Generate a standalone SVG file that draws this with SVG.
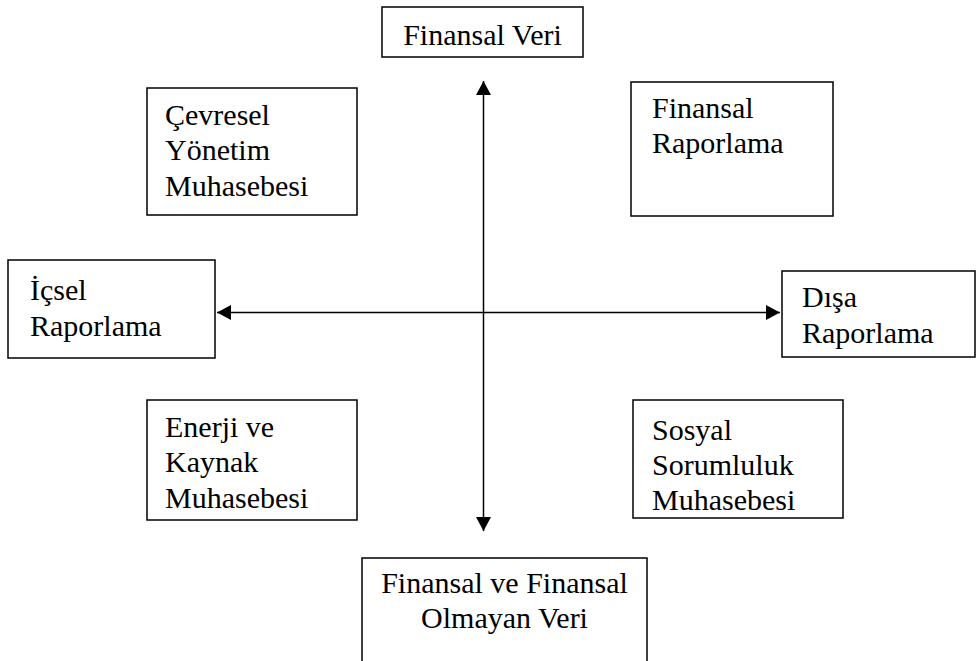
<svg xmlns="http://www.w3.org/2000/svg" width="977" height="661" viewBox="0 0 977 661">
  <style>
    .box { fill: #ffffff; stroke: #000000; stroke-width: 1.5; }
    .lbl { font-family: "Liberation Serif", "Times New Roman", serif; font-size: 30px; fill: #000000; }
    .mid { text-anchor: middle; }
    .axis { stroke: #000000; stroke-width: 1.5; fill: none; }
  </style>
  <defs>
    <marker id="head" viewBox="0 0 14 15" refX="14" refY="7.5" markerWidth="14" markerHeight="15" markerUnits="userSpaceOnUse" orient="auto-start-reverse">
      <path d="M0,0 L14,7.5 L0,15 Z" fill="#000000"/>
    </marker>
  </defs>
  <rect width="977" height="661" fill="#ffffff"/>

  <g id="connectors">
    <line class="axis" x1="483.5" y1="81" x2="483.5" y2="531" marker-start="url(#head)" marker-end="url(#head)"/>
    <line class="axis" x1="217" y1="312.5" x2="780" y2="312.5" marker-start="url(#head)" marker-end="url(#head)"/>
  </g>

  <g id="finansal-veri">
    <rect class="box" x="382" y="7" width="201" height="50"/>
    <text class="lbl mid" x="482.5" y="45">Finansal Veri</text>
  </g>

  <g id="cevresel-yonetim">
    <rect class="box" x="147" y="88" width="210" height="127"/>
    <text class="lbl" x="165" y="125">Çevresel</text>
    <text class="lbl" x="165" y="160">Yönetim</text>
    <text class="lbl" x="165" y="196">Muhasebesi</text>
  </g>

  <g id="finansal-raporlama">
    <rect class="box" x="631" y="82" width="202" height="134"/>
    <text class="lbl" x="652" y="118">Finansal</text>
    <text class="lbl" x="652" y="153">Raporlama</text>
  </g>

  <g id="icsel-raporlama">
    <rect class="box" x="8" y="260" width="207" height="98"/>
    <text class="lbl" x="30" y="300">İçsel</text>
    <text class="lbl" x="30" y="336">Raporlama</text>
  </g>

  <g id="disa-raporlama">
    <rect class="box" x="782" y="271" width="193" height="86"/>
    <text class="lbl" x="802" y="307">Dışa</text>
    <text class="lbl" x="802" y="343">Raporlama</text>
  </g>

  <g id="enerji-kaynak">
    <rect class="box" x="147" y="400" width="210" height="120"/>
    <text class="lbl" x="165" y="437">Enerji ve</text>
    <text class="lbl" x="165" y="472">Kaynak</text>
    <text class="lbl" x="165" y="508">Muhasebesi</text>
  </g>

  <g id="sosyal-sorumluluk">
    <rect class="box" x="633" y="400" width="210" height="118"/>
    <text class="lbl" x="652" y="440">Sosyal</text>
    <text class="lbl" x="652" y="475">Sorumluluk</text>
    <text class="lbl" x="652" y="510">Muhasebesi</text>
  </g>

  <g id="finansal-olmayan">
    <rect class="box" x="362" y="558" width="285" height="120"/>
    <text class="lbl mid" x="504.5" y="593">Finansal ve Finansal</text>
    <text class="lbl mid" x="504.5" y="628">Olmayan Veri</text>
  </g>
</svg>
